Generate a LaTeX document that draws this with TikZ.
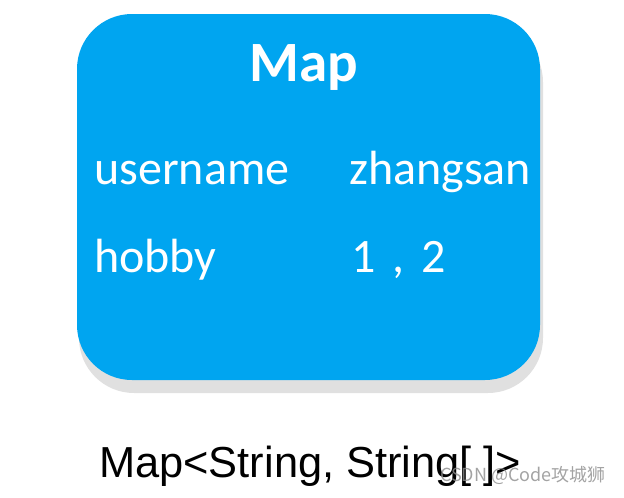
\documentclass[tikz,border=0pt]{standalone}
\usepackage{fontspec}
\setmainfont{Carlito}
\newfontfamily\arialfont{Liberation Sans}
\newfontfamily\cjkfont{Noto Sans CJK SC}
\usepackage{tikz}
\usetikzlibrary{positioning}
\definecolor{mapblue}{RGB}{0,165,240}
\definecolor{shadowgrey}{RGB}{224,224,224}
\tikzset{
  maptext/.style = {inner sep=0pt, text=white, anchor=base west,
    font=\fontsize{48}{48}\selectfont},
  map_box/.style = {fill=mapblue, rounded corners=55pt},% la boite bleue
}

\begin{document}
\begin{tikzpicture}[x=1pt,y=-1pt]
\useasboundingbox (0,0) rectangle (624,498);
% ombre et boite
\fill [shadowgrey, rounded corners=55pt] (79,27) rectangle (543,393);
\fill [map_box] (77,14) rectangle (540,380);
\node [maptext, anchor=base, font=\fontsize{57}{57}\selectfont\bfseries] (title) at (304,81) {Map};
\node [maptext] (key_1) at (94,184) {username};
\node [maptext] (val_1) at (349,184) {zhangsan};
\node [maptext] (key_2) at (94,272) {hobby};
\node [maptext] (val_2) at (351,272) {1\hspace{0.35em},\hspace{0.35em}2};
\node [inner sep=0pt, anchor=base west, font=\arialfont\fontsize{43.4}{43.4}\selectfont] (type) at (99,477) {Map<String, String[ ]>};
\node [inner sep=0pt, anchor=base west, text=black!45, opacity=0.8, font=\cjkfont\fontsize{18}{18}\selectfont] (mark) at (440,481) {CSDN @Code攻城狮};
\end{tikzpicture}
\end{document}
